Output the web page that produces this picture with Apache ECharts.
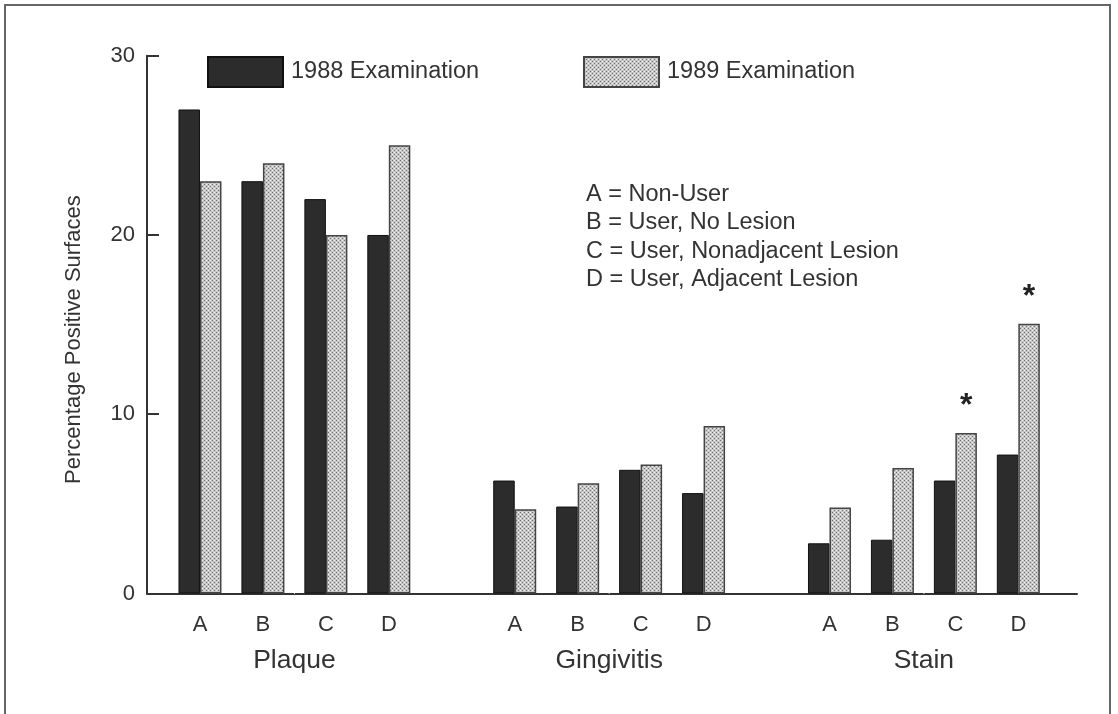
<!DOCTYPE html>
<html>
<head>
<meta charset="utf-8">
<script src="https://cdn.jsdelivr.net/npm/echarts@6/dist/echarts.min.js"></script>
<style>
html,body{margin:0;padding:0;background:#fff;}
#chart{width:1118px;height:714px;}
</style>
</head>
<body>
<div id="chart"></div>
<script>
// ---- data ----
const groups = ['Plaque', 'Gingivitis', 'Stain'];
const letters = ['A', 'B', 'C', 'D'];
const exam1988 = [
  [27, 23, 22, 20],        // Plaque
  [6.3, 4.85, 6.9, 5.6],   // Gingivitis
  [2.8, 3.0, 6.3, 7.75]    // Stain
];
const exam1989 = [
  [23, 24, 20, 25],
  [4.7, 6.15, 7.2, 9.35],
  [4.8, 7.0, 8.95, 15.05]
];
const signif1989 = [
  ['', '', '', ''],
  ['', '', '', ''],
  ['', '', '*', '*']
];
const yTicks = [0, 10, 20, 30];
const seriesNames = ['1988 Examination', '1989 Examination'];
const keyLines = ['A = Non-User', 'B = User, No Lesion', 'C = User, Nonadjacent Lesion', 'D = User, Adjacent Lesion'];
const yTitle = 'Percentage Positive Surfaces';

// ---- build slots (a blank slot between groups) ----
const categories = [];
const d1988 = [];
const d1989 = [];
const groupCenters = [];
groups.forEach((g, gi) => {
  if (gi > 0) { categories.push(''); d1988.push('-'); d1989.push('-'); }
  const start = categories.length;
  letters.forEach((l, li) => {
    categories.push(l);
    d1988.push(exam1988[gi][li]);
    const s = signif1989[gi][li];
    d1989.push(s ? { value: exam1989[gi][li], label: { show: true, formatter: s } } : exam1989[gi][li]);
  });
  groupCenters.push([(start + categories.length - 1) / 2, 0, g]);
});

// ---- dotted pattern ----
const pc = document.createElement('canvas');
pc.width = 4; pc.height = 4;
const px = pc.getContext('2d');
px.fillStyle = '#c6c6c6'; px.fillRect(0, 0, 4, 4);
px.fillStyle = '#707070'; px.fillRect(0, 0, 1, 1); px.fillRect(2, 2, 1, 1);
px.fillStyle = '#f0f0f0'; px.fillRect(2, 0, 1, 1); px.fillRect(0, 2, 1, 1);

const FONT = 'Liberation Sans, Arial, Helvetica, sans-serif';
const TXT = '#333';
const yMin = yTicks[0], yMax = yTicks[yTicks.length - 1], yStep = yTicks[1] - yTicks[0];

const chart = echarts.init(document.getElementById('chart'));
chart.setOption({
  animation: false,
  backgroundColor: '#fff',
  textStyle: { fontFamily: FONT },
  grid: [
    { left: 168.5, right: 68.2, top: 55.7, bottom: 120.5 },
    { left: 147, right: 41, top: 55.7, bottom: 120.5 }
  ],
  legend: [
    { data: [seriesNames[0]], left: 207, top: 56, padding: 0, icon: 'rect', itemWidth: 75, itemHeight: 30,
      textStyle: { fontSize: 23.5, color: TXT, fontFamily: FONT, padding: [8, 0, 0, 3] } },
    { data: [seriesNames[1]], left: 583, top: 56, padding: 0, icon: 'rect', itemWidth: 75, itemHeight: 30,
      textStyle: { fontSize: 23.5, color: TXT, fontFamily: FONT, padding: [8, 0, 0, 3] } }
  ],
  xAxis: [
    { type: 'category', gridIndex: 0, data: categories,
      axisLine: { show: false }, axisTick: { show: false },
      axisLabel: { fontSize: 22, color: TXT, margin: 20, interval: 0 } },
    { type: 'value', gridIndex: 0, min: -0.5, max: categories.length - 0.5, show: false },
    { type: 'value', gridIndex: 1, min: 0, max: 1,
      axisLine: { show: true, lineStyle: { color: '#333', width: 2 } },
      axisTick: { show: false }, axisLabel: { show: false }, splitLine: { show: false } }
  ],
  yAxis: [
    { type: 'value', gridIndex: 0, min: yMin, max: yMax, interval: yStep, show: false },
    { type: 'value', gridIndex: 1, min: yMin, max: yMax, interval: yStep,
      name: yTitle, nameLocation: 'middle', nameGap: 62,
      nameTextStyle: { fontSize: 22, color: TXT, padding: [0, 30, 0, 0] },
      axisLine: { show: true, lineStyle: { color: '#333', width: 2 } },
      axisTick: { show: true, inside: true, length: 12, lineStyle: { color: '#333', width: 2 } },
      axisLabel: { fontSize: 22, color: TXT, margin: 12 },
      splitLine: { show: false } }
  ],
  graphic: [
    { type: 'rect', shape: { x: 5, y: 5, width: 1105, height: 740 },
      style: { fill: 'none', stroke: '#666', lineWidth: 2 }, silent: true },
    { type: 'text', left: 586, top: 180,
      style: { text: keyLines.join('\n'), font: '23.5px ' + FONT, fill: TXT, lineHeight: 28.5 } }
  ],
  series: [
    { name: seriesNames[0], type: 'bar', xAxisIndex: 0, yAxisIndex: 0,
      barWidth: 21.5, barGap: '0%', data: d1988,
      itemStyle: { color: '#2c2c2c', borderColor: '#111', borderWidth: 1 } },
    { name: seriesNames[1], type: 'bar', xAxisIndex: 0, yAxisIndex: 0,
      barWidth: 21.5, barGap: '0%', data: d1989,
      itemStyle: { color: { image: pc, repeat: 'repeat' }, borderColor: '#444', borderWidth: 1.5 },
      label: { show: false, position: 'top', distance: 11, fontSize: 32, fontWeight: 'bold', color: '#222' } },
    { type: 'scatter', xAxisIndex: 1, yAxisIndex: 0, symbolSize: 1, clip: false, silent: true,
      z: 0, itemStyle: { color: '#fff', opacity: 1 },
      data: groupCenters,
      label: { show: true, position: 'bottom', distance: 53, fontSize: 26.5, color: TXT,
        formatter: p => p.data[2] } }
  ]
});
</script>
</body>
</html>
